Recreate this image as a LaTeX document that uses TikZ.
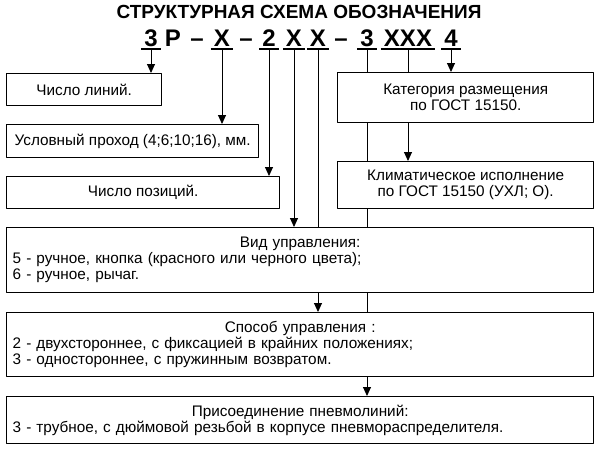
\documentclass[tikz,border=0pt]{standalone}
\usepackage{fontspec}
\setmainfont{Liberation Sans}
\usetikzlibrary{arrows.meta,backgrounds}
\tikzset{
  box/.style={draw,line width=1.4pt,fill=white,anchor=north west,inner sep=0pt,
    font=\fontsize{15.3}{16}\selectfont},
  code/.style={anchor=base,inner xsep=3pt,inner ysep=3pt,text depth=0pt,
    font=\bfseries\fontsize{24}{24}\selectfont},
  ul/.style={line width=1.6pt},
  lead/.style={line width=0.9pt}
}
\newcommand\headline[1]{\makebox[\linewidth][c]{#1}\\}
\begin{document}
\begin{tikzpicture}[x=1pt,y=-1pt,line join=round,>={Triangle[length=9pt,width=8pt]}]
\useasboundingbox (0,0) rectangle (598,450);
\node[font=\bfseries\fontsize{19}{20}\selectfont] (title) at (299,12) {СТРУКТУРНАЯ СХЕМА ОБОЗНАЧЕНИЯ};
% code line
\node[code] (n3) at (151,46) {3};
\node[code] (nr) at (173,46) {Р};
\node[code] (d1) at (197,46) {--};
\node[code] (nx1) at (222,46) {Х};
\node[code] (d2) at (246,46) {--};
\node[code] (n2) at (269,46) {2};
\node[code] (nx2) at (294,46) {Х};
\node[code] (nx3) at (318,46) {Х};
\node[code] (d3) at (341,46) {--};
\node[code] (n3b) at (367,46) {3};
\node[code] (nxxx) at (408,46) {ХХХ};
\node[code] (n4) at (451,46) {4};
\foreach \n in {n3,nx1,n2,nx2,nx3,n3b,nxxx,n4}
  \draw[ul] (\n.south west) -- (\n.south east);
% boxes
\node[box,minimum width=155pt,minimum height=32pt] (lin) at (6,73) {Число линий.};
\node[box,minimum width=252pt,minimum height=33pt] (dn) at (6,124) {Условный проход (4;6;10;16), мм.};
\node[box,minimum width=273pt,minimum height=32pt] (poz) at (6,176) {Число позиций.};
\node[box,minimum width=256pt,minimum height=50pt,align=center] (kat) at (337,72)
  {Категория размещения\\по ГОСТ 15150.};
\node[box,minimum width=256pt,minimum height=47pt,align=center] (clim) at (337,161)
  {Климатическое исполнение\\по ГОСТ 15150 (УХЛ; О).};
\node[box,inner xsep=6pt,text width=575pt,align=left,minimum height=65pt] (vid) at (6,227)
  {\headline{Вид управления:}5 - ручное, кнопка (красного или черного цвета);\\6 - ручное, рычаг.};
\node[box,inner xsep=6pt,text width=575pt,align=left,minimum height=64pt] (spos) at (6,312)
  {\headline{Способ управления :}2 - двухстороннее, с фиксацией в крайних положениях;\\3 - одностороннее, с пружинным возвратом.};
\node[box,inner xsep=6pt,text width=575pt,align=left,minimum height=47pt] (pris) at (6,396)
  {\headline{Присоединение пневмолиний:}3 - трубное, с дюймовой резьбой в корпусе пневмораспределителя.};
% leads
\begin{scope}[on background layer]
\draw[lead,->] (n3.south) -- (n3.south |- lin.north);
\draw[lead,->] (nx1.south) -- (nx1.south |- dn.north);
\draw[lead,->] (n2.south) -- (n2.south |- poz.north);
\draw[lead,->] (nx2.south) -- (nx2.south |- vid.north);
\draw[lead,->] (nx3.south) -- (nx3.south |- spos.north);
\draw[lead,->] (n3b.south) -- (n3b.south |- pris.north);
\draw[lead,->] (nxxx.south) -- (nxxx.south |- clim.north);
\draw[lead,->] (n4.south) -- (n4.south |- kat.north);
\end{scope}
\end{tikzpicture}
\end{document}
